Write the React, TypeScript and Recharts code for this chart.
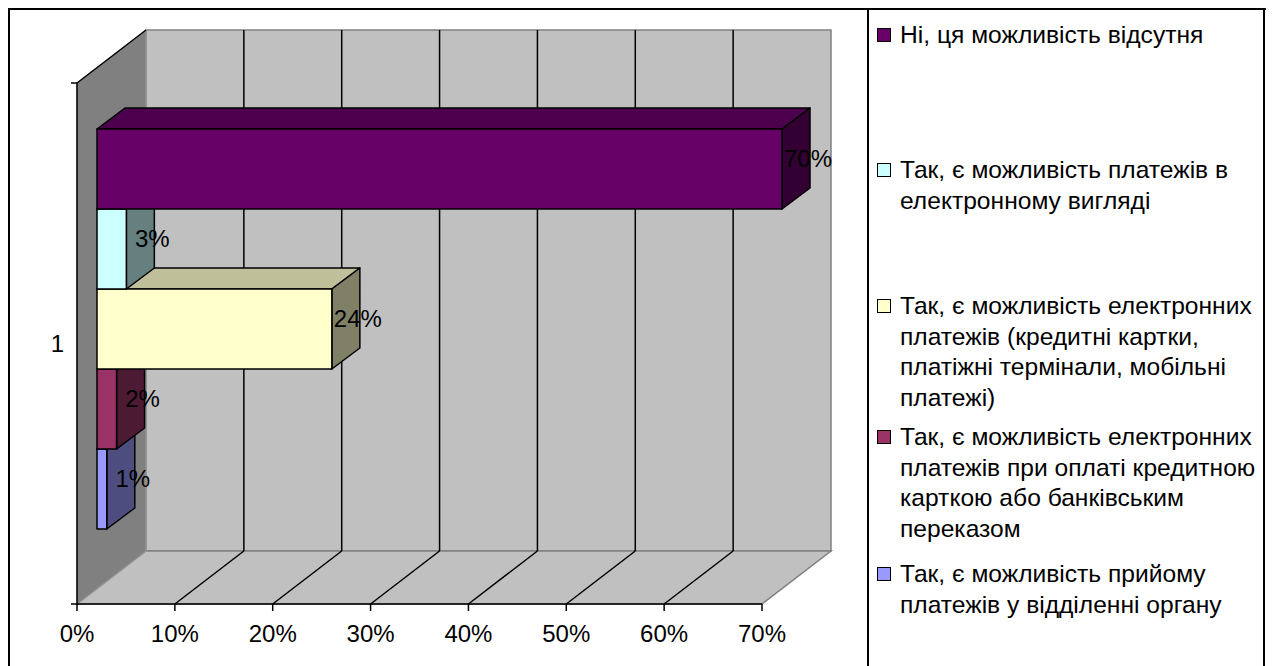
import { BarChart, Bar, XAxis, YAxis, CartesianGrid, LabelList } from "recharts";

const CATEGORIES = ["1"];
const SERIES_NAMES = [
  "Ні, ця можливість відсутня",
  "Так, є можливість платежів в\nелектронному вигляді",
  "Так, є можливість електронних\nплатежів (кредитні картки,\nплатіжні термінали, мобільні\nплатежі)",
  "Так, є можливість електронних\nплатежів при оплаті кредитною\nкарткою або банківським\nпереказом",
  "Так, є можливість прийому\nплатежів у відділенні органу",
];
const SERIES_VALUES = [0.7, 0.03, 0.24, 0.02, 0.01];
const SERIES_COLORS = ["#660066", "#ccffff", "#ffffcc", "#993366", "#9999ff"];
const X_TICKS = [0, 0.1, 0.2, 0.3, 0.4, 0.5, 0.6, 0.7];

const W = 1266;
const H = 658;
const FONT = "'Liberation Sans', Arial, sans-serif";

// plot area of the front plane; the walls sit one depth step behind it
const PLOT = { left: 69, top: 75, width: 685, height: 521 };
const DEPTH = { dx: 69, dy: -53 };
// bars start part way into the depth and are this deep
const BAR_OFFSET = { dx: 20, dy: -15 };
const BAR_DEPTH = { dx: 28, dy: -21 };

const X_AXIS_H = 40;
const Y_AXIS_W = 40;

const data = CATEGORIES.map((name) => {
  const row: Record<string, string | number> = { name };
  SERIES_VALUES.forEach((v, i) => (row[`s${i}`] = v));
  return row;
});

const pct = (v: number) => `${Math.round(v * 100)}%`;

function shade(hex: string, k: number) {
  const n = parseInt(hex.slice(1), 16);
  const r = Math.round(((n >> 16) & 255) * k);
  const g = Math.round(((n >> 8) & 255) * k);
  const b = Math.round((n & 255) * k);
  return `rgb(${r},${g},${b})`;
}

function Box3D(props: any) {
  const { x, y, width, height, fill } = props;
  if (!width || !height) return <g />;
  const fx = x + BAR_OFFSET.dx;
  const fy = y + BAR_OFFSET.dy;
  const { dx, dy } = BAR_DEPTH;
  const top = `${fx},${fy} ${fx + width},${fy} ${fx + width + dx},${fy + dy} ${fx + dx},${fy + dy}`;
  const side = `${fx + width},${fy} ${fx + width + dx},${fy + dy} ${fx + width + dx},${fy + height + dy} ${fx + width},${fy + height}`;
  return (
    <g stroke="#000" strokeWidth={1.5} strokeLinejoin="round">
      <polygon points={top} fill={shade(fill, 0.75)} />
      <polygon points={side} fill={shade(fill, 0.5)} />
      <rect x={fx} y={fy} width={width} height={height} fill={fill} />
    </g>
  );
}

function BoxLabel(props: any) {
  const vb = props.viewBox && props.viewBox.width !== undefined ? props.viewBox : props;
  const { x, y, width, height } = vb;
  const cx = x + BAR_OFFSET.dx + width + 26;
  const cy = y + BAR_OFFSET.dy + height / 2 - 11;
  return (
    <text x={cx} y={cy} textAnchor="middle" dominantBaseline="central" fontSize={24} fill="#000" fontFamily={FONT}>
      {pct(Number(props.value))}
    </text>
  );
}

// vertical grid lines go onto the back wall and across the floor
function WallGridLine(props: any) {
  const { x1, y1, y2 } = props;
  const edge = Math.abs(x1 - PLOT.left) < 1 || Math.abs(x1 - (PLOT.left + PLOT.width)) < 1;
  if (edge) return <g />;
  return (
    <g stroke="#000" strokeWidth={1.5}>
      <line x1={x1 + DEPTH.dx} y1={y1 + DEPTH.dy} x2={x1 + DEPTH.dx} y2={y2 + DEPTH.dy} />
      <line x1={x1} y1={y2} x2={x1 + DEPTH.dx} y2={y2 + DEPTH.dy} />
    </g>
  );
}

function Walls() {
  const L = PLOT.left;
  const T = PLOT.top;
  const R = PLOT.left + PLOT.width;
  const B = PLOT.top + PLOT.height;
  const { dx, dy } = DEPTH;
  return (
    <svg width={W} height={H} style={{ position: "absolute", left: 0, top: 0 }}>
      {/* chart frame and legend box */}
      <rect x={1} y={1} width={1258} height={H + 20} fill="#fff" stroke="#000" strokeWidth={2} />
      <rect x={860} y={1} width={396} height={H + 20} fill="none" stroke="#000" strokeWidth={2} />
      {/* back wall */}
      <rect x={L + dx} y={T + dy} width={PLOT.width} height={PLOT.height} fill="#c0c0c0" stroke="#808080" strokeWidth={1.5} />
      {/* floor */}
      <polygon
        points={`${L},${B} ${R},${B} ${R + dx},${B + dy} ${L + dx},${B + dy}`}
        fill="#c0c0c0"
        stroke="#808080"
        strokeWidth={1.5}
      />
      {/* side wall */}
      <polygon
        points={`${L},${T} ${L + dx},${T + dy} ${L + dx},${B + dy} ${L},${B}`}
        fill="#808080"
        stroke="#9a9a9a"
        strokeWidth={1}
      />
      <line x1={L} y1={T} x2={L + dx} y2={T + dy} stroke="#000" strokeWidth={1.5} />
      <line x1={L - 6} y1={T} x2={L} y2={T} stroke="#000" strokeWidth={1.5} />
      <line x1={L - 6} y1={B} x2={L} y2={B} stroke="#000" strokeWidth={1.5} />
    </svg>
  );
}

const LEGEND_ROW_Y = [27, 162, 298, 429, 566];

function SeriesLegend() {
  return (
    <div style={{ position: "absolute", left: 0, top: 0, width: W, height: H, pointerEvents: "none" }}>
      {SERIES_NAMES.map((name, i) => (
        <div key={i}>
          <div
            style={{
              position: "absolute",
              left: 869,
              top: LEGEND_ROW_Y[i] - 7,
              width: 12,
              height: 12,
              background: SERIES_COLORS[i],
              border: "1px solid #000",
            }}
          />
          <div
            style={{
              position: "absolute",
              left: 892,
              top: LEGEND_ROW_Y[i] - 15,
              fontSize: 24.6,
              lineHeight: "30.5px",
              whiteSpace: "pre",
              color: "#000",
            }}
          >
            {name}
          </div>
        </div>
      ))}
    </div>
  );
}

export default function App() {
  return (
    <div style={{ position: "relative", width: W, height: H, fontFamily: FONT, overflow: "hidden" }}>
      <Walls />
      <div style={{ position: "absolute", left: 0, top: 0 }}>
        <BarChart
          width={W}
          height={H}
          data={data}
          layout="vertical"
          barSize={80}
          barGap={0}
          margin={{
            top: PLOT.top,
            left: PLOT.left - Y_AXIS_W,
            right: W - PLOT.left - PLOT.width,
            bottom: H - PLOT.top - PLOT.height - X_AXIS_H,
          }}
        >
          <CartesianGrid horizontal={false} vertical={WallGridLine} />
          <XAxis
            type="number"
            domain={[0, 0.7]}
            ticks={X_TICKS}
            tickFormatter={pct}
            height={X_AXIS_H}
            axisLine={{ stroke: "#000", strokeWidth: 1.5 }}
            tickLine={{ stroke: "#000", strokeWidth: 1.5 }}
            tickSize={7}
            tickMargin={14}
            tick={{ fill: "#000", fontSize: 24 }}
          />
          <YAxis
            type="category"
            dataKey="name"
            width={Y_AXIS_W}
            axisLine={{ stroke: "#000", strokeWidth: 1.5 }}
            tickLine={false}
            tickSize={8}
            tickMargin={5}
            tick={{ fill: "#000", fontSize: 24 }}
          />
          {SERIES_NAMES.map((name, i) => (
            <Bar
              key={name}
              dataKey={`s${i}`}
              name={name}
              fill={SERIES_COLORS[i]}
              shape={Box3D}
              isAnimationActive={false}
              zIndex={310 - i}
            >
              <LabelList dataKey={`s${i}`} content={BoxLabel} isAnimationActive={false} />
            </Bar>
          ))}
        </BarChart>
      </div>
      <SeriesLegend />
    </div>
  );
}
